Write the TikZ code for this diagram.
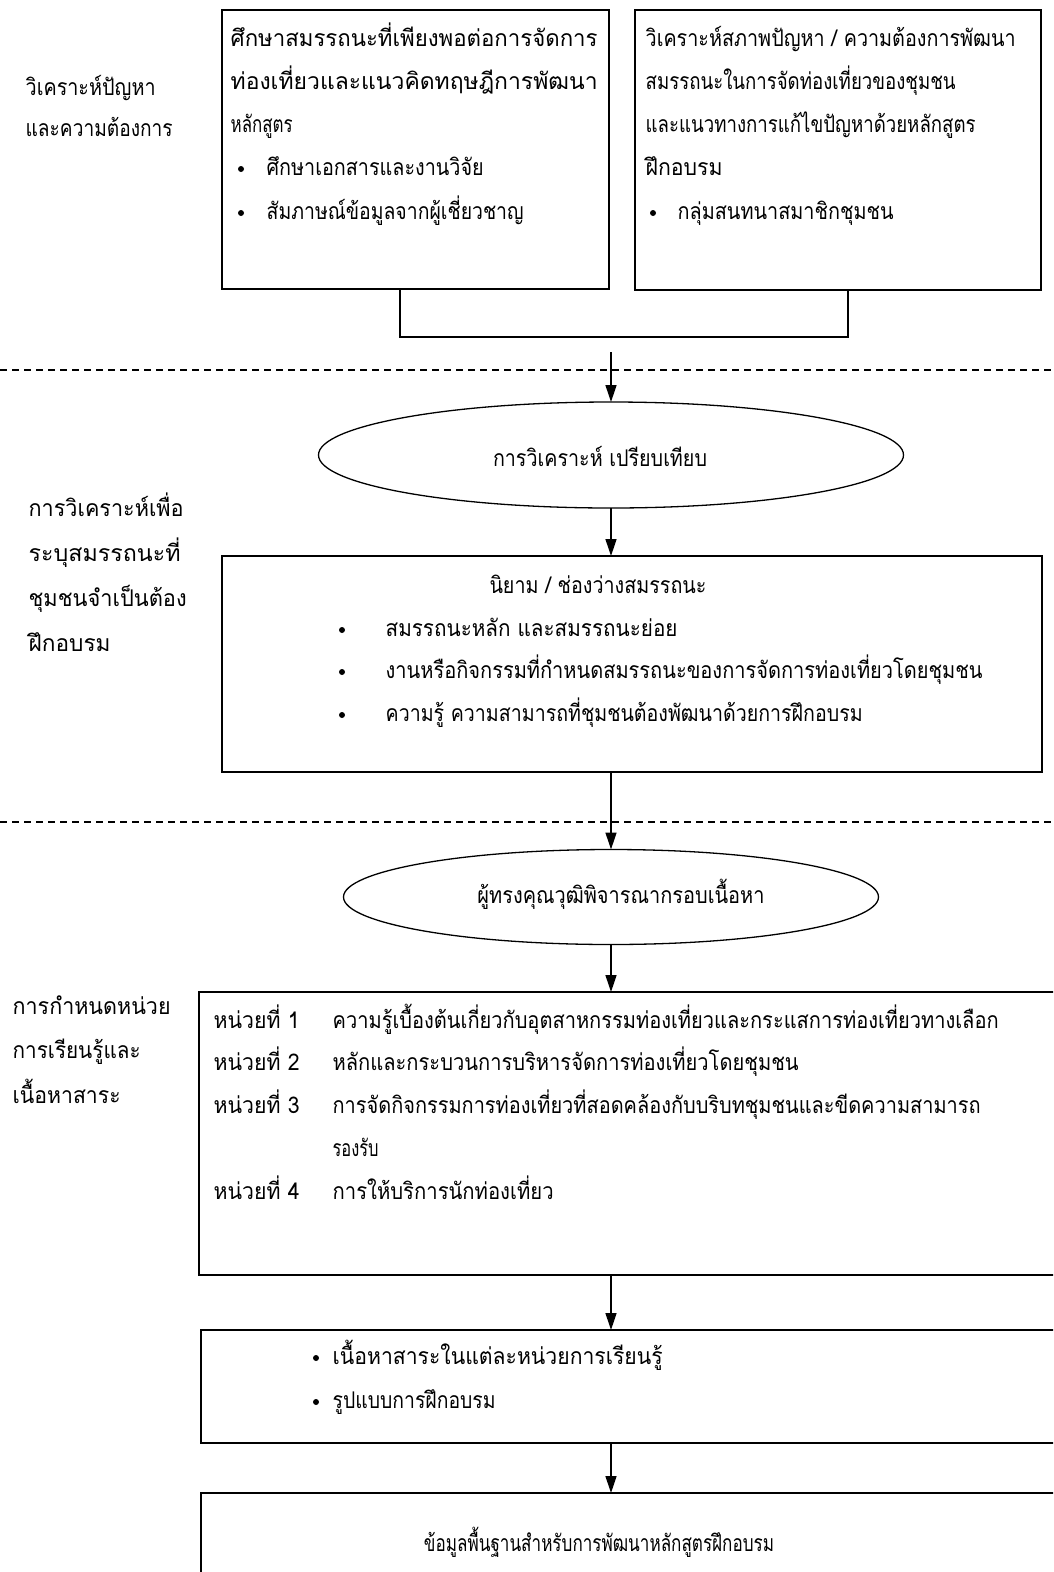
\documentclass[tikz,border=0pt]{standalone}
\usepackage{fontspec}
\newfontfamily\thai[Script=Thai]{Loma}
\usetikzlibrary{shapes.geometric,arrows.meta}
% set a line of text to a given width, keeping its height
\newcommand\fw[2]{\resizebox{#1pt}{\height}{#2}}
\begin{document}
\begin{tikzpicture}[x=1pt,y=-1pt,
  line width=1.3pt,
  txt/.style={anchor=base west,inner sep=0pt,font=\thai\fontsize{23}{26}\selectfont},
  ctxt/.style={anchor=base,inner sep=0pt,font=\thai\fontsize{23}{26}\selectfont},
  box/.style={draw,anchor=north west,inner sep=0pt,outer sep=0pt},
  oval/.style={draw,ellipse,inner sep=0pt,outer sep=0pt},
  arr/.style={-{Triangle[length=17pt,width=11pt]},line width=1.3pt},
  sep/.style={dash pattern=on 7pt off 5pt,line width=1.3pt},
  dot/.style={fill,radius=3pt}]
\useasboundingbox (0,0) rectangle (1053,1572);
\clip (0,0) rectangle (1053,1572);

% boxes and ovals
\node[box,minimum width=387pt,minimum height=279pt] (b1) at (222,10) {};
\node[box,minimum width=406pt,minimum height=280pt] (b2) at (635,10) {};
\node[oval,minimum width=585pt,minimum height=106pt] (e1) at (611,455) {};
\node[box,minimum width=820pt,minimum height=216pt] (b3) at (222,556) {};
\node[oval,minimum width=535pt,minimum height=95pt] (e2) at (611,897) {};
\node[box,minimum width=870pt,minimum height=283pt] (b4) at (199,992) {};
\node[box,minimum width=870pt,minimum height=113pt] (b5) at (201,1330) {};
\node[box,minimum width=870pt,minimum height=120pt] (b6) at (201,1493) {};

% separators between the stages
\draw[sep] (0,370) -- (1053,370);
\draw[sep] (0,822) -- (1053,822);

% joining bracket under the two top boxes
\coordinate (j1) at (400,337);
\coordinate (j2) at (848,337);
\coordinate (a0) at (611,352);
\draw (b1.south -| j1) -- (j1) -- (j2) -- (b2.south -| j2);

% arrows
\draw[arr] (a0) -- (e1.north);
\draw[arr] (e1.south) -- (b3.north -| e1.south);
\draw[arr] (b3.south -| e2.north) -- (e2.north);
\draw[arr] (e2.south) -- (b4.north -| e2.south);
\draw[arr] (b4.south -| e2.south) -- (b5.north -| e2.south);
\draw[arr] (b5.south -| e2.south) -- (b6.north -| e2.south);

% stage labels
\node[txt] (l1a) at (25,95) {\fw{130}{วิเคราะห์ปัญหา}};
\node[txt] (l1b) at (25,136) {\fw{147}{และความต้องการ}};
\node[txt] (l2a) at (28,516) {\fw{155}{การวิเคราะห์เพื่อ}};
\node[txt] (l2b) at (28,561) {\fw{152}{ระบุสมรรถนะที่}};
\node[txt] (l2c) at (28,606) {\fw{158}{ชุมชนจำเป็นต้อง}};
\node[txt] (l2d) at (28,651) {\fw{82}{ฝึกอบรม}};
\node[txt] (l3a) at (12,1014) {\fw{158}{การกำหนดหน่วย}};
\node[txt] (l3b) at (12,1058) {\fw{128}{การเรียนรู้และ}};
\node[txt] (l3c) at (12,1103) {\fw{108}{เนื้อหาสาระ}};

% box 1
\node[txt] (t1a) at (230,46) {\fw{367}{ศึกษาสมรรถนะที่เพียงพอต่อการจัดการ}};
\node[txt] (t1b) at (230,89) {\fw{367}{ท่องเที่ยวและแนวคิดทฤษฎีการพัฒนา}};
\node[txt] (t1c) at (230,132) {\fw{62}{หลักสูตร}};
\fill[dot] (241,169) circle;
\node[txt] (t1d) at (266,175) {\fw{217}{ศึกษาเอกสารและงานวิจัย}};
\fill[dot] (241,213) circle;
\node[txt] (t1e) at (266,219) {\fw{257}{สัมภาษณ์ข้อมูลจากผู้เชี่ยวชาญ}};

% box 2
\node[txt] (t2a) at (645,46) {\fw{370}{วิเคราะห์สภาพปัญหา / ความต้องการพัฒนา}};
\node[txt] (t2b) at (645,89) {\fw{310}{สมรรถนะในการจัดท่องเที่ยวของชุมชน}};
\node[txt] (t2c) at (645,132) {\fw{330}{และแนวทางการแก้ไขปัญหาด้วยหลักสูตร}};
\node[txt] (t2d) at (645,175) {\fw{77}{ฝึกอบรม}};
\fill[dot] (653,213) circle;
\node[txt] (t2e) at (677,219) {\fw{216}{กลุ่มสนทนาสมาชิกชุมชน}};

% oval 1
\node[ctxt] (te1) at (600,466) {\fw{214}{การวิเคราะห์ เปรียบเทียบ}};

% box 3
\node[ctxt] (t3a) at (598,593) {\fw{217}{นิยาม / ช่องว่างสมรรถนะ}};
\fill[dot] (342,630) circle;
\node[txt] (t3b) at (385,636) {\fw{292}{สมรรถนะหลัก และสมรรถนะย่อย}};
\fill[dot] (342,672) circle;
\node[txt] (t3c) at (385,678) {\fw{597}{งานหรือกิจกรรมที่กำหนดสมรรถนะของการจัดการท่องเที่ยวโดยชุมชน}};
\fill[dot] (342,715) circle;
\node[txt] (t3d) at (385,721) {\fw{477}{ความรู้ ความสามารถที่ชุมชนต้องพัฒนาด้วยการฝึกอบรม}};

% oval 2
\node[ctxt] (te2) at (621,903) {\fw{287}{ผู้ทรงคุณวุฒิพิจารณากรอบเนื้อหา}};

% box 4
\node[txt] (u1) at (213,1028) {\fw{86}{หน่วยที่ 1}};
\node[txt] (u1t) at (332,1028) {\fw{666}{ความรู้เบื้องต้นเกี่ยวกับอุตสาหกรรมท่องเที่ยวและกระแสการท่องเที่ยวทางเลือก}};
\node[txt] (u2) at (213,1070) {\fw{86}{หน่วยที่ 2}};
\node[txt] (u2t) at (332,1070) {\fw{466}{หลักและกระบวนการบริหารจัดการท่องเที่ยวโดยชุมชน}};
\node[txt] (u3) at (213,1113) {\fw{86}{หน่วยที่ 3}};
\node[txt] (u3t) at (332,1113) {\fw{648}{การจัดกิจกรรมการท่องเที่ยวที่สอดคล้องกับบริบทชุมชนและขีดความสามารถ}};
\node[txt] (u3u) at (332,1156) {\fw{46}{รองรับ}};
\node[txt] (u4) at (213,1199) {\fw{86}{หน่วยที่ 4}};
\node[txt] (u4t) at (332,1199) {\fw{221}{การให้บริการนักท่องเที่ยว}};

% box 5
\fill[dot] (316,1358) circle;
\node[txt] (t5a) at (332,1364) {\fw{330}{เนื้อหาสาระในแต่ละหน่วยการเรียนรู้}};
\fill[dot] (316,1402) circle;
\node[txt] (t5b) at (332,1408) {\fw{163}{รูปแบบการฝึกอบรม}};

% box 6
\node[ctxt] (t6) at (599,1551) {\fw{350}{ข้อมูลพื้นฐานสำหรับการพัฒนาหลักสูตรฝึกอบรม}};
\end{tikzpicture}
\end{document}
